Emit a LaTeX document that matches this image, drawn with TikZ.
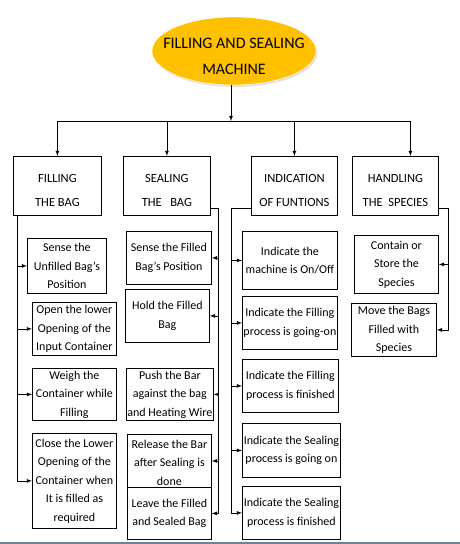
\documentclass[tikz,border=0pt]{standalone}
\usepackage{fontspec}
\setmainfont{Carlito}
\usetikzlibrary{arrows,calc,shapes,shadows}

\definecolor{machineorange}{RGB}{255,192,0}
\definecolor{stripcolor}{RGB}{110,130,145}

\begin{document}
\begin{tikzpicture}[x=1pt,y=-1pt,
    line width=0.8pt,>=latex,
    every node/.style={inner sep=1pt,align=center},
    machine/.style={ellipse,fill=machineorange,draw=white,thin,
      minimum width=164,minimum height=68,
      drop shadow={shadow xshift=1.5pt,shadow yshift=-2pt,fill=gray!45}},
    head/.style={draw,anchor=north west,text height=49,text depth=8,
      font=\fontsize{12.5}{24}\selectfont},
    task/.style={draw,anchor=north west,font=\fontsize{12}{18.5}\selectfont}
   ]
  \useasboundingbox (0,0) rectangle (460,544);
  \fill[stripcolor] (0,541.5) rectangle (460,544);

  \node[machine,label={[yshift=-5pt,font=\fontsize{16}{26}\selectfont,align=center]center:FILLING AND SEALING\\MACHINE}] (machine) at (234,51) {};
  \coordinate (hub) at (231,121);

  % headers
  \node[head,minimum width=88] (fillhead) at (13,156) {FILLING\\THE BAG};
  \node[head,minimum width=87] (sealhead) at (123,156) {SEALING\\THE \ \ BAG};
  \node[head,minimum width=86] (indhead) at (251,156) {INDICATION\\OF FUNTIONS};
  \node[head,minimum width=86] (handhead) at (352,156) {HANDLING\\THE \ SPECIES};
  \coordinate (handdrop) at ($(handhead.north)+(15,0)$);

  % filling the bag
  \node[task,minimum width=79,minimum height=55] (fill1) at (27,238) {Sense the\\Unfilled Bag’s\\Position};
  \node[task,minimum width=84,minimum height=53] (fill2) at (32,302) {Open the lower\\Opening of the\\Input Container};
  \node[task,minimum width=84,minimum height=52] (fill3) at (32,368) {Weigh the\\Container while\\Filling};
  \node[task,minimum width=84,minimum height=95] (fill4) at (32,433) {Close the Lower\\Opening of the\\Container when\\It is filled as\\required};

  % sealing the bag
  \node[task,minimum width=85,minimum height=53] (seal1) at (126,231) {Sense the Filled\\Bag’s Position};
  \node[task,minimum width=84,minimum height=53] (seal2) at (125,289) {Hold the Filled\\Bag};
  \node[task,minimum width=85,minimum height=52] (seal3) at (126,368) {Push the Bar\\against the bag\\and Heating Wire};
  \node[task,minimum width=84,text height=49,text depth=-5,inner sep=2pt] (seal4) at (127,434) {Release the Bar\\after Sealing is\\done};
  \node[task,minimum width=84,minimum height=52] (seal5) at (127,487) {Leave the Filled\\and Sealed Bag};

  % indication of functions
  \node[task,minimum width=95,minimum height=58] (ind1) at (242,231) {Indicate the\\machine is On/Off};
  \node[task,minimum width=95,minimum height=53] (ind2) at (242,296) {Indicate the Filling\\process is going-on};
  \node[task,minimum width=96,minimum height=53] (ind3) at (242,359) {Indicate the Filling\\process is finished};
  \node[task,minimum width=98,minimum height=54] (ind4) at (242,423) {Indicate the Sealing\\process is going on};
  \node[task,minimum width=98,minimum height=53] (ind5) at (242,486) {Indicate the Sealing\\process is finished};

  % handling the species
  \node[task,minimum width=84,minimum height=58] (hand1) at (354,235) {Contain or\\Store the\\Species};
  \node[task,minimum width=85,minimum height=53] (hand2) at (351,303) {Move the Bags\\Filled with\\Species};

  % machine to headers
  \draw[->] (hub |- machine.south) -- (hub);
  \draw (hub -| fillhead.north) -- (hub -| handdrop);
  \foreach \h in {fillhead,sealhead,indhead}
    \draw[->] (hub -| \h.north) -- (\h.north);
  \draw[->] (hub -| handdrop) -- (handdrop);

  % buses
  \draw ($(fillhead.south west)+(4,0)$) coordinate (fillbus);
  \draw[->] (fillbus) |- (fill4.west);
  \foreach \t in {fill1,fill2,fill3}
    \draw[->] (fillbus |- \t.west) -- (\t.west);

  \draw ($(sealhead.south east)+(0,-7)$) -- ++(8,0) coordinate (sealbus);
  \draw[->] (sealbus) |- (seal5.east);
  \foreach \t in {seal1,seal2,seal3,seal4}
    \draw[->] (sealbus |- \t.east) -- (\t.east);

  \draw ($(indhead.south west)+(0,-7)$) -- ++(-20,0) coordinate (indbus);
  \draw[->] (indbus) |- (ind5.west);
  \foreach \t in {ind1,ind2,ind3,ind4}
    \draw[->] (indbus |- \t.west) -- (\t.west);

  \draw ($(handhead.south east)+(0,-7)$) -- ++(10,0) coordinate (handbus);
  \draw[->] (handbus) |- (hand2.east);
  \draw[->] (handbus |- hand1.east) -- (hand1.east);
\end{tikzpicture}
\end{document}
